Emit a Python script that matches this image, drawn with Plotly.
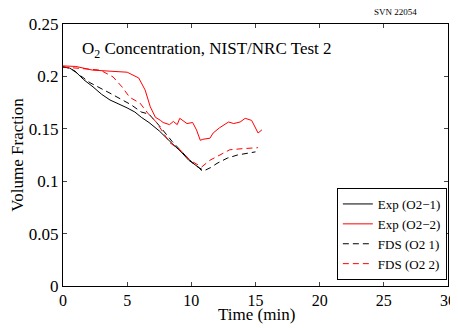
import plotly.graph_objects as go

# Exp (O2-1)
exp1_t = [0, 0.5, 0.94, 1.6, 2.34, 3.0, 3.66, 4.3, 4.99, 5.6, 6.1, 6.7, 7.5, 8.5, 9.2, 9.8, 10.3, 10.6, 10.8]
exp1_v = [0.209, 0.208, 0.205, 0.197, 0.190, 0.183, 0.1775, 0.174, 0.170, 0.166, 0.161, 0.156, 0.148, 0.136, 0.128, 0.120, 0.116, 0.113, 0.110]

# Exp (O2-2)
exp2_t = [0, 1.0, 2.3, 3.5, 5.0, 5.9, 6.4, 6.8, 7.2, 7.6, 7.8, 8.3, 8.6, 8.9, 9.1, 9.66, 10.1, 10.4, 10.7, 10.9, 11.45, 11.7, 12.2, 12.9, 13.3, 13.8, 14.2, 14.7, 15.2, 15.5]
exp2_v = [0.210, 0.2095, 0.206, 0.205, 0.204, 0.1985, 0.187, 0.171, 0.161, 0.158, 0.156, 0.154, 0.157, 0.154, 0.160, 0.155, 0.156, 0.149, 0.139, 0.140, 0.141, 0.146, 0.151, 0.1565, 0.155, 0.1565, 0.160, 0.158, 0.146, 0.149]

# FDS (O2 1)
fds1_t = [0, 0.5, 1.0, 2.1, 3.66, 4.6, 5.3, 6.1, 6.7, 7.5, 8.5, 9.5, 10.3, 11.0, 11.5, 12.0, 12.8, 13.6, 14.6, 15.0]
fds1_v = [0.209, 0.208, 0.204, 0.194, 0.184, 0.1775, 0.173, 0.166, 0.164, 0.153, 0.138, 0.125, 0.115, 0.110, 0.113, 0.117, 0.122, 0.125, 0.127, 0.128]

# FDS (O2 2)
fds2_t = [0, 1.1, 2.9, 3.9, 4.6, 5.2, 6.0, 6.6, 7.3, 8.3, 9.3, 9.9, 10.8, 11.45, 12.1, 13.0, 13.95, 14.7, 15.2]
fds2_v = [0.209, 0.208, 0.206, 0.1995, 0.190, 0.180, 0.1745, 0.165, 0.156, 0.137, 0.128, 0.120, 0.1135, 0.120, 0.124, 0.130, 0.131, 0.132, 0.132]

x_ticks = [0, 5, 10, 15, 20, 25, 30]
y_ticks = [0, 0.05, 0.1, 0.15, 0.2, 0.25]
y_tick_labels = ["0", "0.05", "0.1", "0.15", "0.2", "0.25"]

FONT = "Liberation Serif"

# page body has an 8px margin; plot area in page px: x 63..448, y 24..286
W, H = 450, 320
L, T = 55, 16
R = W - 440
B = H - 278
PH = 278 - T
PW = 440 - L

fig = go.Figure()
fig.add_trace(go.Scatter(x=exp1_t, y=exp1_v, mode="lines", name="Exp (O2\u22121)",
                         line=dict(color="black", width=1)))
fig.add_trace(go.Scatter(x=exp2_t, y=exp2_v, mode="lines", name="Exp (O2\u22122)",
                         line=dict(color="red", width=1)))
fig.add_trace(go.Scatter(x=fds1_t, y=fds1_v, mode="lines", name="FDS (O2 1)",
                         line=dict(color="black", width=1, dash="6px,4px")))
fig.add_trace(go.Scatter(x=fds2_t, y=fds2_v, mode="lines", name="FDS (O2 2)",
                         line=dict(color="red", width=1, dash="6px,4px")))

fig.update_layout(
    width=W, height=H,
    margin=dict(l=L, r=R, t=T, b=B, autoexpand=False),
    paper_bgcolor="white", plot_bgcolor="white",
    font=dict(family=FONT, size=17, color="black"),
    showlegend=True,
    legend=dict(x=0.997, y=6 / PH, xanchor="right", yanchor="bottom",
                bordercolor="black", borderwidth=1, bgcolor="white",
                font=dict(family=FONT, size=13), tracegroupgap=0,
                itemwidth=30),
    xaxis=dict(range=[0, 30], tickvals=x_ticks, ticks="inside", ticklen=4,
               showline=True, linecolor="black", linewidth=1, mirror="ticks",
               showgrid=False, zeroline=False, automargin=False,
               tickfont=dict(size=16)),
    yaxis=dict(range=[0, 0.25], tickvals=y_ticks, ticktext=y_tick_labels,
               ticks="inside", ticklen=4,
               showline=True, linecolor="black", linewidth=1, mirror="ticks",
               showgrid=False, zeroline=False, automargin=False,
               title=dict(text="Volume Fraction", standoff=0, font=dict(size=17)),
               tickfont=dict(size=17)),
    annotations=[
        dict(text="O<sub>2</sub> Concentration, NIST/NRC Test 2", xref="paper", yref="paper",
             x=(80 - 63) / PW, y=(286 - 50) / PH, xanchor="left", yanchor="middle",
             showarrow=False, font=dict(family=FONT, size=17)),
        dict(text="SVN 22054", xref="paper", yref="paper",
             x=(372 - 63) / PW, y=(286 - 12) / PH,
             xanchor="left", yanchor="middle", showarrow=False,
             font=dict(family=FONT, size=9)),
        dict(text="Time (min)", xref="paper", yref="paper",
             x=(257 - 63) / PW, y=-(314 - 286) / PH,
             xanchor="center", yanchor="middle", showarrow=False,
             font=dict(family=FONT, size=17)),
    ],
)

fig.write_html("out.html")
